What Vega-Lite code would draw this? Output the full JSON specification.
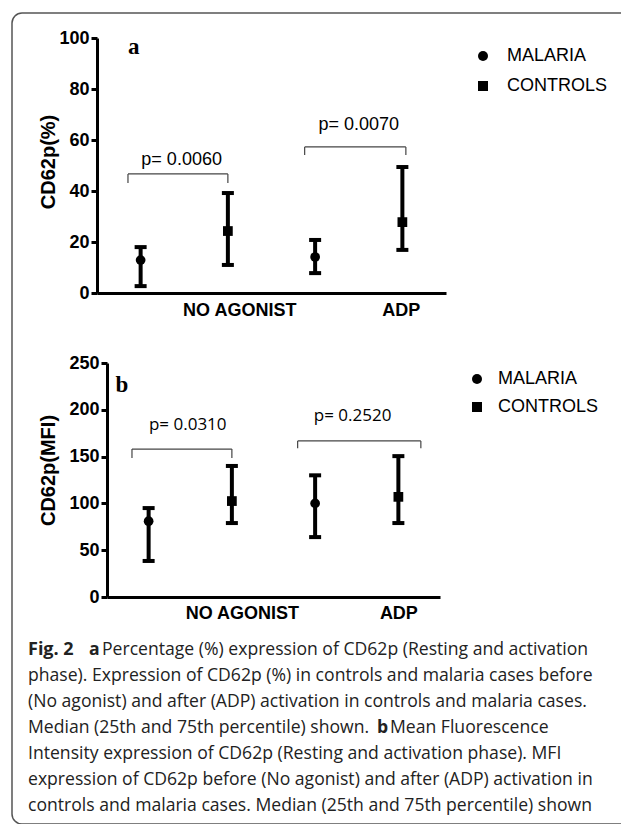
{
  "$schema": "https://vega.github.io/schema/vega-lite/v6.json",
  "width": 620,
  "height": 811,
  "autosize": {"type": "none"},
  "padding": {"left": 12, "top": 13, "right": 0, "bottom": 0},
  "background": "white",
  "config": {
    "view": {"stroke": "#555555", "strokeWidth": 1.5, "cornerRadius": 10},
    "font": "Liberation Sans"
  },
  "datasets": {
    "pa": [
      {"agonist": "NO AGONIST", "group": "MALARIA", "pos": 1, "median": 12.9, "q1": 2.7, "q3": 18.0},
      {"agonist": "NO AGONIST", "group": "CONTROLS", "pos": 2, "median": 24.3, "q1": 11.0, "q3": 39.2},
      {"agonist": "ADP", "group": "MALARIA", "pos": 3, "median": 14.1, "q1": 7.8, "q3": 20.8},
      {"agonist": "ADP", "group": "CONTROLS", "pos": 4, "median": 27.8, "q1": 16.9, "q3": 49.4}
    ],
    "pb": [
      {"agonist": "NO AGONIST", "group": "MALARIA", "pos": 1, "median": 81, "q1": 38.5, "q3": 95},
      {"agonist": "NO AGONIST", "group": "CONTROLS", "pos": 2, "median": 102.5, "q1": 79, "q3": 140},
      {"agonist": "ADP", "group": "MALARIA", "pos": 3, "median": 100, "q1": 64, "q3": 130},
      {"agonist": "ADP", "group": "CONTROLS", "pos": 4, "median": 107, "q1": 79, "q3": 150.5}
    ],
    "bra": [
      {"x": 0.855, "x2": 2.0, "y": 46.7, "y2": 46.7},
      {"x": 0.855, "x2": 0.855, "y": 46.7, "y2": 43.1},
      {"x": 2.0, "x2": 2.0, "y": 46.7, "y2": 43.1},
      {"x": 2.88, "x2": 4.04, "y": 57.3, "y2": 57.3},
      {"x": 2.88, "x2": 2.88, "y": 57.3, "y2": 54.1},
      {"x": 4.04, "x2": 4.04, "y": 57.3, "y2": 54.1}
    ],
    "brb": [
      {"x": 0.80, "x2": 2.0, "y": 158, "y2": 158},
      {"x": 0.80, "x2": 0.80, "y": 158, "y2": 148.5},
      {"x": 2.0, "x2": 2.0, "y": 158, "y2": 148.5},
      {"x": 2.79, "x2": 4.27, "y": 166.7, "y2": 166.7},
      {"x": 2.79, "x2": 2.79, "y": 166.7, "y2": 159},
      {"x": 4.27, "x2": 4.27, "y": 166.7, "y2": 159}
    ],
    "pta": [
      {"x": 1.47, "y": 52.2, "t": "p= 0.0060"},
      {"x": 3.50, "y": 65.9, "t": "p= 0.0070"}
    ],
    "ptb": [
      {"x": 1.47, "y": 184, "t": "p= 0.0310"},
      {"x": 3.45, "y": 193, "t": "p= 0.2520"}
    ],
    "laba": [{"x": 0.92, "y": 96.5, "t": "a"}],
    "labb": [{"x": 0.68, "y": 226.5, "t": "b"}],
    "cap": [
      {"line": 1, "seg": "bold0", "t": "Fig. 2"},
      {"line": 1, "seg": "bold1", "t": "a"},
      {"line": 1, "seg": "reg1", "t": "Percentage (%) expression of CD62p (Resting and activation"},
      {"line": 2, "seg": "reg0", "t": "phase). Expression of CD62p (%) in controls and malaria cases before"},
      {"line": 3, "seg": "reg0", "t": "(No agonist) and after (ADP) activation in controls and malaria cases."},
      {"line": 4, "seg": "reg0", "t": "Median (25th and 75th percentile) shown."},
      {"line": 4, "seg": "bold4", "t": "b"},
      {"line": 4, "seg": "reg4", "t": "Mean Fluorescence"},
      {"line": 5, "seg": "reg0", "t": "Intensity expression of CD62p (Resting and activation phase). MFI"},
      {"line": 6, "seg": "reg0", "t": "expression of CD62p before (No agonist) and after (ADP) activation in"},
      {"line": 7, "seg": "reg0", "t": "controls and malaria cases. Median (25th and 75th percentile) shown"}
    ]
  },
  "layer": [
    {
      "layer": [
        {
          "data": {"name": "bra"},
          "mark": {"type": "rule", "color": "#444444", "strokeWidth": 1.2},
          "encoding": {
            "x": {"field": "x", "type": "quantitative", "title": null,
              "scale": {"domain": [0.5, 4.5], "range": [85, 434], "nice": false, "zero": false},
              "axis": {"orient": "bottom", "offset": -531, "values": [2.13, 3.98],
                "labelExpr": "datum.value < 3 ? 'NO AGONIST' : 'ADP'",
                "ticks": false, "tickSize": 0, "labelPadding": 8, "grid": false,
                "domainColor": "black", "domainWidth": 3,
                "labelFont": "Liberation Sans", "labelFontWeight": "bold", "labelFontSize": 18, "labelColor": "black"}},
            "x2": {"field": "x2"},
            "y": {"field": "y", "type": "quantitative", "title": "CD62p(%)",
              "scale": {"domain": [0, 100], "range": [280, 25], "nice": false, "zero": false},
              "axis": {"orient": "left", "offset": -85, "values": [0, 20, 40, 60, 80, 100],
                "grid": false, "domainColor": "black", "domainWidth": 3,
                "tickColor": "black", "tickWidth": 3, "tickSize": 6, "labelPadding": 2,
                "labelFont": "Liberation Sans", "labelFontWeight": "bold", "labelFontSize": 18, "labelColor": "black",
                "titleFont": "Liberation Sans", "titleFontWeight": "bold", "titleFontSize": 20,
                "titleColor": "black", "titleX": -48.5, "titleY": 148.5, "titleBaseline": "middle", "titleAngle": -90}},
            "y2": {"field": "y2"}
          }
        },
        {
          "data": {"name": "pa"},
          "mark": {"type": "rule", "color": "black", "strokeWidth": 4},
          "encoding": {
            "x": {"field": "pos", "type": "quantitative", "title": null, "scale": {"domain": [0.5, 4.5], "range": [85, 434], "nice": false, "zero": false}},
            "y": {"field": "q1", "type": "quantitative", "title": "CD62p(%)", "scale": {"domain": [0, 100], "range": [280, 25], "nice": false, "zero": false}},
            "y2": {"field": "q3"}
          }
        },
        {
          "data": {"name": "pa"},
          "mark": {"type": "tick", "orient": "horizontal", "color": "black", "size": 12, "thickness": 4, "opacity": 1},
          "encoding": {
            "x": {"field": "pos", "type": "quantitative", "title": null, "scale": {"domain": [0.5, 4.5], "range": [85, 434], "nice": false, "zero": false}},
            "y": {"field": "q1", "type": "quantitative", "title": "CD62p(%)", "scale": {"domain": [0, 100], "range": [280, 25], "nice": false, "zero": false}}
          }
        },
        {
          "data": {"name": "pa"},
          "mark": {"type": "tick", "orient": "horizontal", "color": "black", "size": 12, "thickness": 4, "opacity": 1},
          "encoding": {
            "x": {"field": "pos", "type": "quantitative", "title": null, "scale": {"domain": [0.5, 4.5], "range": [85, 434], "nice": false, "zero": false}},
            "y": {"field": "q3", "type": "quantitative", "title": "CD62p(%)", "scale": {"domain": [0, 100], "range": [280, 25], "nice": false, "zero": false}}
          }
        },
        {
          "data": {"name": "pa"},
          "mark": {"type": "point", "filled": true, "color": "black", "opacity": 1, "size": 95},
          "encoding": {
            "x": {"field": "pos", "type": "quantitative", "title": null, "scale": {"domain": [0.5, 4.5], "range": [85, 434], "nice": false, "zero": false}},
            "y": {"field": "median", "type": "quantitative", "title": "CD62p(%)", "scale": {"domain": [0, 100], "range": [280, 25], "nice": false, "zero": false}},
            "shape": {"field": "group", "type": "nominal",
              "scale": {"domain": ["MALARIA", "CONTROLS"], "range": ["circle", "square"]},
              "legend": {"orient": "none", "legendX": 462, "legendY": 34, "title": null, "padding": 0,
                "symbolFillColor": "black", "symbolStrokeColor": "black", "symbolSize": 100, "symbolStrokeWidth": 0,
                "labelFont": "Liberation Sans", "labelFontSize": 18, "labelColor": "black", "labelOffset": 15, "rowPadding": 12}}
          }
        },
        {
          "data": {"name": "pta"},
          "mark": {"type": "text", "font": "Liberation Sans", "fontSize": 18, "color": "black", "align": "center", "baseline": "middle"},
          "encoding": {
            "x": {"field": "x", "type": "quantitative", "title": null, "scale": {"domain": [0.5, 4.5], "range": [85, 434], "nice": false, "zero": false}},
            "y": {"field": "y", "type": "quantitative", "title": "CD62p(%)", "scale": {"domain": [0, 100], "range": [280, 25], "nice": false, "zero": false}},
            "text": {"field": "t"}
          }
        },
        {
          "data": {"name": "laba"},
          "mark": {"type": "text", "font": "Liberation Serif", "fontWeight": "bold", "fontSize": 23, "color": "black", "align": "center", "baseline": "middle"},
          "encoding": {
            "x": {"field": "x", "type": "quantitative", "title": null, "scale": {"domain": [0.5, 4.5], "range": [85, 434], "nice": false, "zero": false}},
            "y": {"field": "y", "type": "quantitative", "title": "CD62p(%)", "scale": {"domain": [0, 100], "range": [280, 25], "nice": false, "zero": false}},
            "text": {"field": "t"}
          }
        }
      ]
    },
    {
      "layer": [
        {
          "data": {"name": "brb"},
          "mark": {"type": "rule", "color": "#444444", "strokeWidth": 1.2},
          "encoding": {
            "x": {"field": "x", "type": "quantitative", "title": null,
              "scale": {"domain": [0.5, 4.5], "range": [95, 428], "nice": false, "zero": false},
              "axis": {"orient": "bottom", "offset": -227, "values": [2.12, 4.0],
                "labelExpr": "datum.value < 3 ? 'NO AGONIST' : 'ADP'",
                "ticks": false, "tickSize": 0, "labelPadding": 7, "grid": false,
                "domainColor": "black", "domainWidth": 3,
                "labelFont": "Liberation Sans", "labelFontWeight": "bold", "labelFontSize": 18, "labelColor": "black"}},
            "x2": {"field": "x2"},
            "y": {"field": "y", "type": "quantitative", "title": "CD62p(MFI)",
              "scale": {"domain": [0, 250], "range": [584, 350], "nice": false, "zero": false},
              "axis": {"orient": "left", "offset": -95, "values": [0, 50, 100, 150, 200, 250],
                "grid": false, "domainColor": "black", "domainWidth": 3,
                "tickColor": "black", "tickWidth": 3, "tickSize": 6, "labelPadding": 2,
                "labelFont": "Liberation Sans", "labelFontWeight": "bold", "labelFontSize": 18, "labelColor": "black",
                "titleFont": "Liberation Sans", "titleFontWeight": "bold", "titleFontSize": 20,
                "titleColor": "black", "titleX": -58.5, "titleY": 457, "titleBaseline": "middle", "titleAngle": -90}},
            "y2": {"field": "y2"}
          }
        },
        {
          "data": {"name": "pb"},
          "mark": {"type": "rule", "color": "black", "strokeWidth": 4},
          "encoding": {
            "x": {"field": "pos", "type": "quantitative", "title": null, "scale": {"domain": [0.5, 4.5], "range": [95, 428], "nice": false, "zero": false}},
            "y": {"field": "q1", "type": "quantitative", "title": "CD62p(MFI)", "scale": {"domain": [0, 250], "range": [584, 350], "nice": false, "zero": false}},
            "y2": {"field": "q3"}
          }
        },
        {
          "data": {"name": "pb"},
          "mark": {"type": "tick", "orient": "horizontal", "color": "black", "size": 12, "thickness": 4, "opacity": 1},
          "encoding": {
            "x": {"field": "pos", "type": "quantitative", "title": null, "scale": {"domain": [0.5, 4.5], "range": [95, 428], "nice": false, "zero": false}},
            "y": {"field": "q1", "type": "quantitative", "title": "CD62p(MFI)", "scale": {"domain": [0, 250], "range": [584, 350], "nice": false, "zero": false}}
          }
        },
        {
          "data": {"name": "pb"},
          "mark": {"type": "tick", "orient": "horizontal", "color": "black", "size": 12, "thickness": 4, "opacity": 1},
          "encoding": {
            "x": {"field": "pos", "type": "quantitative", "title": null, "scale": {"domain": [0.5, 4.5], "range": [95, 428], "nice": false, "zero": false}},
            "y": {"field": "q3", "type": "quantitative", "title": "CD62p(MFI)", "scale": {"domain": [0, 250], "range": [584, 350], "nice": false, "zero": false}}
          }
        },
        {
          "data": {"name": "pb"},
          "mark": {"type": "point", "filled": true, "color": "black", "opacity": 1, "size": 95},
          "encoding": {
            "x": {"field": "pos", "type": "quantitative", "title": null, "scale": {"domain": [0.5, 4.5], "range": [95, 428], "nice": false, "zero": false}},
            "y": {"field": "median", "type": "quantitative", "title": "CD62p(MFI)", "scale": {"domain": [0, 250], "range": [584, 350], "nice": false, "zero": false}},
            "shape": {"field": "group", "type": "nominal",
              "scale": {"domain": ["MALARIA", "CONTROLS"], "range": ["circle", "square"]},
              "legend": {"orient": "none", "legendX": 456, "legendY": 357, "title": null, "padding": 0,
                "symbolFillColor": "black", "symbolStrokeColor": "black", "symbolSize": 100, "symbolStrokeWidth": 0,
                "labelFont": "Liberation Sans", "labelFontSize": 18, "labelColor": "black", "labelOffset": 12, "rowPadding": 10}}
          }
        },
        {
          "data": {"name": "ptb"},
          "mark": {"type": "text", "font": "Open Sans", "fontSize": 17, "color": "black", "align": "center", "baseline": "middle"},
          "encoding": {
            "x": {"field": "x", "type": "quantitative", "title": null, "scale": {"domain": [0.5, 4.5], "range": [95, 428], "nice": false, "zero": false}},
            "y": {"field": "y", "type": "quantitative", "title": "CD62p(MFI)", "scale": {"domain": [0, 250], "range": [584, 350], "nice": false, "zero": false}},
            "text": {"field": "t"}
          }
        },
        {
          "data": {"name": "labb"},
          "mark": {"type": "text", "font": "Liberation Serif", "fontWeight": "bold", "fontSize": 23, "color": "black", "align": "center", "baseline": "middle"},
          "encoding": {
            "x": {"field": "x", "type": "quantitative", "title": null, "scale": {"domain": [0.5, 4.5], "range": [95, 428], "nice": false, "zero": false}},
            "y": {"field": "y", "type": "quantitative", "title": "CD62p(MFI)", "scale": {"domain": [0, 250], "range": [584, 350], "nice": false, "zero": false}},
            "text": {"field": "t"}
          }
        }
      ]
    },
    {
      "data": {"name": "cap"},
      "layer": [
        {
          "transform": [{"filter": "datum.seg == 'reg0'"}],
          "mark": {"type": "text", "font": "Open Sans", "fontSize": 17.6, "color": "#222222", "align": "left", "baseline": "middle"},
          "encoding": {
            "x": {"value": 16},
            "y": {"field": "line", "type": "quantitative", "scale": {"domain": [1, 7], "range": [637, 793], "nice": false, "zero": false}, "axis": null},
            "text": {"field": "t"}
          }
        },
        {
          "transform": [{"filter": "datum.seg == 'bold0'"}],
          "mark": {"type": "text", "font": "Open Sans", "fontWeight": "bold", "fontSize": 18, "color": "#222222", "align": "left", "baseline": "middle"},
          "encoding": {
            "x": {"value": 16},
            "y": {"field": "line", "type": "quantitative", "scale": {"domain": [1, 7], "range": [637, 793], "nice": false, "zero": false}, "axis": null},
            "text": {"field": "t"}
          }
        },
        {
          "transform": [{"filter": "datum.seg == 'bold1'"}],
          "mark": {"type": "text", "font": "Open Sans", "fontWeight": "bold", "fontSize": 17.6, "color": "#222222", "align": "left", "baseline": "middle", "dx": 61},
          "encoding": {
            "x": {"value": 16},
            "y": {"field": "line", "type": "quantitative", "scale": {"domain": [1, 7], "range": [637, 793], "nice": false, "zero": false}, "axis": null},
            "text": {"field": "t"}
          }
        },
        {
          "transform": [{"filter": "datum.seg == 'reg1'"}],
          "mark": {"type": "text", "font": "Open Sans", "fontSize": 17.6, "color": "#222222", "align": "left", "baseline": "middle", "dx": 74},
          "encoding": {
            "x": {"value": 16},
            "y": {"field": "line", "type": "quantitative", "scale": {"domain": [1, 7], "range": [637, 793], "nice": false, "zero": false}, "axis": null},
            "text": {"field": "t"}
          }
        },
        {
          "transform": [{"filter": "datum.seg == 'bold4'"}],
          "mark": {"type": "text", "font": "Open Sans", "fontWeight": "bold", "fontSize": 17.6, "color": "#222222", "align": "left", "baseline": "middle", "dx": 349},
          "encoding": {
            "x": {"value": 16},
            "y": {"field": "line", "type": "quantitative", "scale": {"domain": [1, 7], "range": [637, 793], "nice": false, "zero": false}, "axis": null},
            "text": {"field": "t"}
          }
        },
        {
          "transform": [{"filter": "datum.seg == 'reg4'"}],
          "mark": {"type": "text", "font": "Open Sans", "fontSize": 17.6, "color": "#222222", "align": "left", "baseline": "middle", "dx": 362},
          "encoding": {
            "x": {"value": 16},
            "y": {"field": "line", "type": "quantitative", "scale": {"domain": [1, 7], "range": [637, 793], "nice": false, "zero": false}, "axis": null},
            "text": {"field": "t"}
          }
        }
      ]
    }
  ],
  "resolve": {
    "scale": {"x": "independent", "y": "independent", "shape": "independent"},
    "axis": {"x": "independent", "y": "independent"},
    "legend": {"shape": "independent"}
  }
}
